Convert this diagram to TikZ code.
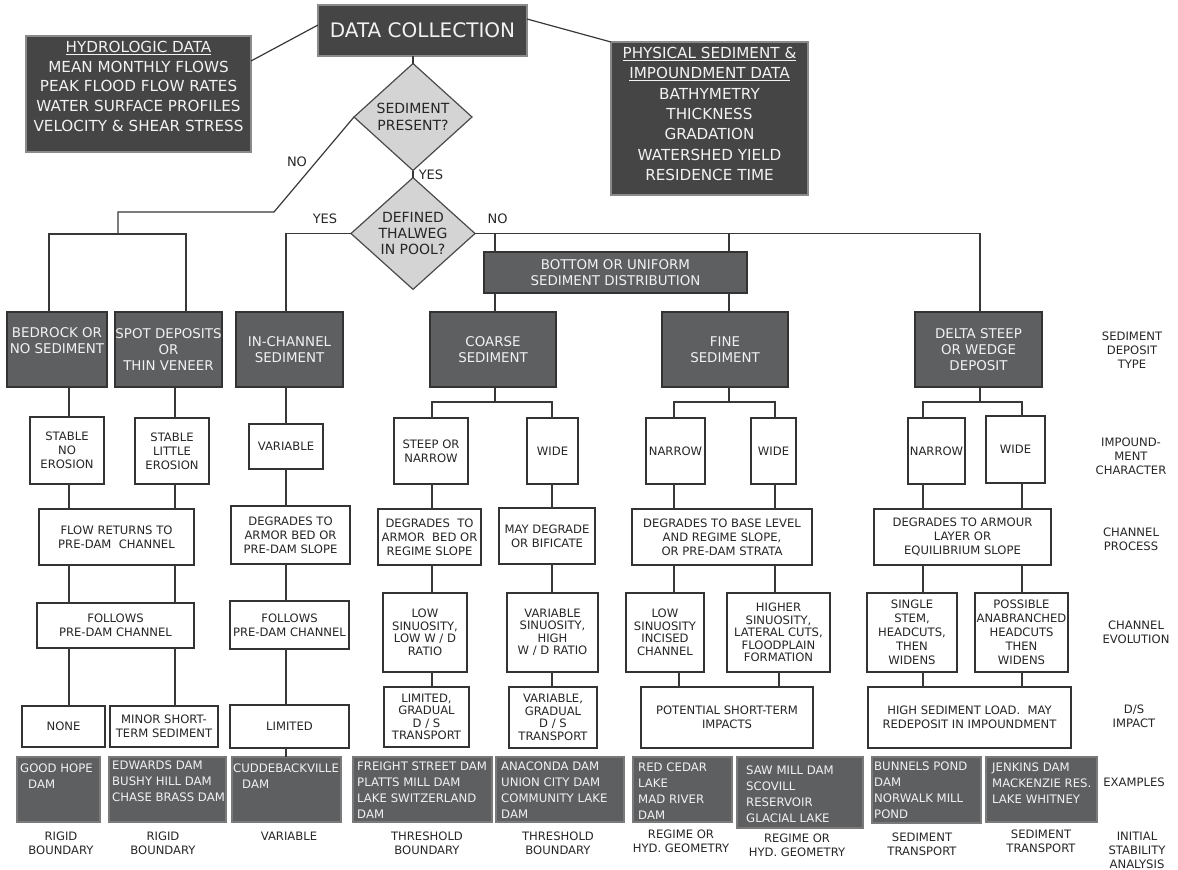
\documentclass[tikz,border=0pt]{standalone}
\usepackage{fontspec}
\setmainfont{DejaVu Sans}
\usetikzlibrary{shapes.geometric}
\definecolor{topfill}{HTML}{454545}
\definecolor{topdraw}{HTML}{8A8A8A}
\definecolor{sedfill}{HTML}{5E5F61}
\definecolor{seddraw}{HTML}{333333}
\definecolor{exdraw}{HTML}{7A7A7A}
\definecolor{diafill}{HTML}{D4D4D4}
\definecolor{diadraw}{HTML}{4A4A4A}
\definecolor{linec}{HTML}{383838}
\definecolor{txt}{HTML}{262626}
\definecolor{wtxt}{HTML}{F2F2F2}
\newcommand\flbox[7]{\node[#1,minimum width={#5-#3},minimum height={#6-#4}] (#2) at ({(#3+#5)/2},{(#4+#6)/2}) {#7};}
\newcommand\liftup[2]{\raisebox{#1}[\height][\depth]{\begin{tabular}{@{}c@{}}#2\end{tabular}}}
\tikzset{
 fbase/.style={inner sep=0pt, outer sep=0pt, align=center},
 topbox/.style={fbase, fill=topfill, draw=topdraw, line width=1.3pt, text=wtxt},
 sedbox/.style={fbase, fill=sedfill, draw=seddraw, line width=1.3pt, text=wtxt, font=\fontsize{13.4}{15.7}\selectfont},
 wbox/.style={fbase, fill=white, draw=seddraw, line width=1.2pt, text=txt, font=\fontsize{11.6}{14}\selectfont},
 tight/.style={font=\fontsize{11.6}{12.5}\selectfont},
 exbox/.style={fbase, fill=sedfill, draw=exdraw, line width=1.3pt},
 extext/.style={inner sep=0pt, align=left, anchor=north west, text=wtxt, font=\fontsize{11.7}{16}\selectfont},
 dia/.style={diamond, inner sep=0pt, outer sep=0pt, fill=diafill, draw=diadraw, line width=1.2pt, text=txt, align=center, font=\fontsize{14}{16.3}\selectfont},
 lab/.style={inner sep=0pt, align=center, text=txt, font=\fontsize{11.6}{14}\selectfont},
 yn/.style={inner sep=0pt, text=txt, font=\fontsize{13}{15}\selectfont},
 conn/.style={draw=linec, line width=1.2pt},
}
\begin{document}
\begin{tikzpicture}[x=1pt,y=-1pt]
\useasboundingbox (0,0) rectangle (1178,870);
% columns and rows
\coordinate (cA) at (49,0);
\coordinate (cB) at (186,0);
\coordinate (cC) at (69,0);
\coordinate (cD) at (175,0);
\coordinate (cE) at (286,0);
\coordinate (cF) at (495,0);
\coordinate (cG) at (729,0);
\coordinate (cH) at (980,0);
\coordinate (cI) at (432,0);
\coordinate (cJ) at (552,0);
\coordinate (cK) at (674,0);
\coordinate (cK2) at (679,0);
\coordinate (cL) at (775,0);
\coordinate (cL2) at (779,0);
\coordinate (cM) at (923,0);
\coordinate (cN) at (1022,0);
\coordinate (brL) at (0,234);
\coordinate (brR) at (0,402);
\coordinate (noA) at (274,212);
\coordinate (noB) at (118,212);

% top boxes
\flbox{topbox,font=\fontsize{20}{24}\selectfont}{dc}{318}{5}{527}{56}{DATA COLLECTION}
\flbox{topbox,font=\fontsize{15.2}{19.8}\selectfont}{hydro}{26}{36}{251}{152}{\liftup{6pt}{\underline{HYDROLOGIC DATA}\\MEAN MONTHLY FLOWS\\PEAK FLOOD FLOW RATES\\WATER SURFACE PROFILES\\VELOCITY \& SHEAR STRESS}}
\flbox{topbox,font=\fontsize{15.2}{20.4}\selectfont}{phys}{611}{42}{808}{195}{\liftup{3pt}{\underline{PHYSICAL SEDIMENT \&}\\\underline{IMPOUNDMENT DATA}\\BATHYMETRY\\THICKNESS\\GRADATION\\WATERSHED YIELD\\RESIDENCE TIME}}

% diamonds
\node[dia, minimum width=118, minimum height=107] (d1) at (413,117) {SEDIMENT\\PRESENT?};
\node[dia, minimum width=124, minimum height=109] (d2) at (413,233.5) {DEFINED\\THALWEG\\IN POOL?};

% sediment type boxes
\flbox{sedbox}{bottom}{484}{252}{747}{293}{BOTTOM OR UNIFORM\\SEDIMENT DISTRIBUTION}
\flbox{sedbox}{bedrock}{7}{312}{107}{387}{\liftup{7pt}{BEDROCK OR\\NO SEDIMENT}}
\flbox{sedbox}{spot}{115}{312}{222}{387}{SPOT DEPOSITS\\OR\\THIN VENEER}
\flbox{sedbox}{inch}{236}{312}{343}{387}{IN-CHANNEL\\SEDIMENT}
\flbox{sedbox}{coarse}{430}{312}{556}{387}{COARSE\\SEDIMENT}
\flbox{sedbox}{fine}{662}{312}{788}{387}{FINE\\SEDIMENT}
\flbox{sedbox}{delta}{915}{312}{1042}{387}{DELTA STEEP\\OR WEDGE\\DEPOSIT}

% impoundment character
\flbox{wbox}{stableno}{30}{417}{104}{484}{STABLE\\NO\\EROSION}
\flbox{wbox}{stablelit}{135}{418}{209}{484}{STABLE\\LITTLE\\EROSION}
\flbox{wbox}{variable}{249}{424}{323}{469}{VARIABLE}
\flbox{wbox}{steep}{394}{418}{468}{484}{STEEP OR\\NARROW}
\flbox{wbox}{cwide}{527}{418}{578}{484}{WIDE}
\flbox{wbox}{fnarrow}{646}{418}{705}{484}{NARROW}
\flbox{wbox}{fwide}{751}{418}{796}{484}{WIDE}
\flbox{wbox}{dnarrow}{908}{418}{965}{484}{NARROW}
\flbox{wbox}{dwide}{986}{416}{1045}{483}{WIDE}

% channel process
\flbox{wbox}{flow}{39}{509}{194}{565}{FLOW RETURNS TO\\PRE-DAM\ \ CHANNEL}
\flbox{wbox}{degarmor}{231}{506}{350}{564}{DEGRADES TO\\ARMOR BED OR\\PRE-DAM SLOPE}
\flbox{wbox}{degrto}{378}{509}{481}{565}{DEGRADES\ \ TO\\ARMOR\ \ BED OR\\REGIME SLOPE}
\flbox{wbox}{maydeg}{499}{508}{595}{564}{MAY DEGRADE\\OR BIFICATE}
\flbox{wbox}{baselevel}{632}{509}{812}{565}{DEGRADES TO BASE LEVEL\\AND REGIME SLOPE,\\OR PRE-DAM STRATA}
\flbox{wbox}{armour}{874}{509}{1051}{565}{DEGRADES TO ARMOUR\\LAYER OR\\EQUILIBRIUM SLOPE}

% channel evolution
\flbox{wbox}{followsL}{37}{603}{194}{648}{FOLLOWS\\PRE-DAM CHANNEL}
\flbox{wbox}{followsR}{230}{601}{349}{649}{FOLLOWS\\PRE-DAM CHANNEL}
\flbox{wbox,tight}{lowsin}{383}{593}{467}{672}{LOW\\SINUOSITY,\\LOW W / D\\RATIO}
\flbox{wbox,tight}{varsin}{507}{593}{598}{672}{VARIABLE\\SINUOSITY,\\HIGH\\W / D RATIO}
\flbox{wbox,tight}{lowinc}{626}{593}{704}{672}{LOW\\SINUOSITY\\INCISED\\CHANNEL}
\flbox{wbox,tight}{higher}{727}{593}{830}{672}{HIGHER\\SINUOSITY,\\LATERAL CUTS,\\FLOODPLAIN\\FORMATION}
\flbox{wbox}{single}{867}{593}{957}{672}{SINGLE\\STEM,\\HEADCUTS,\\THEN\\WIDENS}
\flbox{wbox}{possible}{975}{593}{1068}{672}{POSSIBLE\\ANABRANCHED\\HEADCUTS\\THEN\\WIDENS}

% D/S impact
\flbox{wbox}{none}{22}{706}{105}{747}{NONE}
\flbox{wbox}{minor}{110}{706}{218}{747}{MINOR SHORT-\\TERM SEDIMENT}
\flbox{wbox}{limited}{230}{705}{349}{748}{LIMITED}
\flbox{wbox,tight}{limgrad}{384}{687}{469}{747}{LIMITED,\\GRADUAL\\D / S\\TRANSPORT}
\flbox{wbox,tight}{vargrad}{509}{687}{597}{748}{VARIABLE,\\GRADUAL\\D / S\\TRANSPORT}
\flbox{wbox}{potential}{641}{687}{813}{748}{POTENTIAL SHORT-TERM\\IMPACTS}
\flbox{wbox}{highsed}{868}{687}{1071}{748}{HIGH SEDIMENT LOAD.\ \ MAY\\REDEPOSIT IN IMPOUNDMENT}

% examples
\flbox{exbox}{goodhope}{17}{757}{100}{822}{}
\flbox{exbox}{edwards}{109}{757}{226}{822}{}
\flbox{exbox}{cudde}{232}{757}{341}{822}{}
\flbox{exbox}{freight}{353}{757}{492}{822}{}
\flbox{exbox}{anaconda}{496}{757}{624}{822}{}
\flbox{exbox}{redcedar}{633}{757}{732}{822}{}
\flbox{exbox}{sawmill}{737}{757}{863}{828}{}
\flbox{exbox}{bunnels}{872}{757}{981}{823}{}
\flbox{exbox}{jenkins}{986}{757}{1097}{822}{}
\node[extext] (tgoodhope) at (20,763.4) {GOOD HOPE\\\hspace*{8pt}DAM};
\node[extext] (tedwards) at (112,760.4) {EDWARDS DAM\\BUSHY HILL DAM\\CHASE BRASS DAM};
\node[extext] (tcudde) at (233,763.4) {CUDDEBACKVILLE\\\hspace*{9pt}DAM};
\node[extext] (tfreight) at (357,761.4) {FREIGHT STREET DAM\\PLATTS MILL DAM\\LAKE SWITZERLAND\\DAM};
\node[extext] (tanaconda) at (501,761.4) {ANACONDA DAM\\UNION CITY DAM\\COMMUNITY LAKE\\DAM};
\node[extext] (tredcedar) at (638,762.4) {RED CEDAR\\LAKE\\MAD RIVER\\DAM};
\node[extext] (tsawmill) at (746,765.4) {SAW MILL DAM\\SCOVILL\\RESERVOIR\\GLACIAL LAKE};
\node[extext] (tbunnels) at (874,761.4) {BUNNELS POND\\DAM\\NORWALK MILL\\POND};
\node[extext] (tjenkins) at (992,762.4) {JENKINS DAM\\MACKENZIE RES.\\LAKE WHITNEY};

% row labels
\node[lab] (rl1) at (1132,350) {SEDIMENT\\DEPOSIT\\TYPE};
\node[lab] (rl2) at (1131,456.5) {IMPOUND-\\MENT\\CHARACTER};
\node[lab] (rl3) at (1131,539.5) {CHANNEL\\PROCESS};
\node[lab] (rl4) at (1136,632) {CHANNEL\\EVOLUTION};
\node[lab] (rl5) at (1134,716) {D/S\\IMPACT};
\node[lab] (rl6) at (1134,782) {EXAMPLES};
\node[lab] (rl7) at (1137,850) {INITIAL\\STABILITY\\ANALYSIS};

% bottom labels
\node[lab] (bl1) at (61,843) {RIGID\\BOUNDARY};
\node[lab] (bl2) at (163,843) {RIGID\\BOUNDARY};
\node[lab] (bl3) at (289,836) {VARIABLE};
\node[lab] (bl4) at (427,843) {THRESHOLD\\BOUNDARY};
\node[lab] (bl5) at (558,843) {THRESHOLD\\BOUNDARY};
\node[lab] (bl6) at (681,841.5) {REGIME OR\\HYD. GEOMETRY};
\node[lab] (bl7) at (797,845) {REGIME OR\\HYD. GEOMETRY};
\node[lab] (bl8) at (922,844) {SEDIMENT\\TRANSPORT};
\node[lab] (bl9) at (1041,841.5) {SEDIMENT\\TRANSPORT};

% yes/no labels
\node[yn] (no1) at (297,162) {NO};
\node[yn] (yes1) at (431,175) {YES};
\node[yn] (yes2) at (325,219) {YES};
\node[yn] (no2) at (497.5,219) {NO};

% connectors
\draw[conn] ([yshift=-20pt]dc.north west) -- ([yshift=-25pt]hydro.north east);
\draw[conn] ([yshift=-14pt]dc.north east) -- (phys.north west);
\draw[conn] (d1.north |- dc.south) -- (d1.north);
\draw[conn] (d1.south) -- (d2.north);
\draw[conn] (d1.west) -- (noA) -- (noB) -- (noB |- brL);
\draw[conn] (cA |- bedrock.north) -- (cA |- brL) -- (cB |- brL) -- (cB |- spot.north);
\draw[conn] (d2.west) -- (cE |- d2.west) -- (cE |- inch.north);
\draw[conn] (d2.east) -- (cH |- d2.east) -- (cH |- delta.north);
\draw[conn] (cF |- d2.east) -- (cF |- bottom.north);
\draw[conn] (cG |- d2.east) -- (cG |- bottom.north);
\draw[conn] (cF |- bottom.south) -- (cF |- coarse.north);
\draw[conn] (cG |- bottom.south) -- (cG |- fine.north);
% branches
\draw[conn] (cF |- coarse.south) -- (cF |- brR);
\draw[conn] (cI |- steep.north) -- (cI |- brR) -- (cJ |- brR) -- (cJ |- cwide.north);
\draw[conn] (cG |- fine.south) -- (cG |- brR);
\draw[conn] (cK |- fnarrow.north) -- (cK |- brR) -- (cL |- brR) -- (cL |- fwide.north);
\draw[conn] (cH |- delta.south) -- (cH |- brR);
\draw[conn] (cM |- dnarrow.north) -- (cM |- brR) -- (cN |- brR) -- (cN |- dwide.north);
% left chains
\draw[conn] (cC |- bedrock.south) -- (cC |- stableno.north);
\draw[conn] (cD |- spot.south) -- (cD |- stablelit.north);
\draw[conn] (cC |- stableno.south) -- (cC |- flow.north);
\draw[conn] (cD |- stablelit.south) -- (cD |- flow.north);
\draw[conn] (cC |- flow.south) -- (cC |- followsL.north);
\draw[conn] (cD |- flow.south) -- (cD |- followsL.north);
\draw[conn] (cC |- followsL.south) -- (cC |- none.north);
\draw[conn] (cD |- followsL.south) -- (cD |- minor.north);
% in-channel chain
\draw[conn] (cE |- inch.south) -- (cE |- variable.north);
\draw[conn] (cE |- variable.south) -- (cE |- degarmor.north);
\draw[conn] (cE |- degarmor.south) -- (cE |- followsR.north);
\draw[conn] (cE |- followsR.south) -- (cE |- limited.north);
\draw[conn] (cE |- limited.south) -- (cE |- cudde.north);
% coarse chains
\draw[conn] (cI |- steep.south) -- (cI |- degrto.north);
\draw[conn] (cI |- degrto.south) -- (cI |- lowsin.north);
\draw[conn] (cI |- lowsin.south) -- (cI |- limgrad.north);
\draw[conn] (cJ |- cwide.south) -- (cJ |- maydeg.north);
\draw[conn] (cJ |- maydeg.south) -- (cJ |- varsin.north);
\draw[conn] (cJ |- varsin.south) -- (cJ |- vargrad.north);
% fine chains
\draw[conn] (cK |- fnarrow.south) -- (cK |- baselevel.north);
\draw[conn] (cL |- fwide.south) -- (cL |- baselevel.north);
\draw[conn] (cK |- baselevel.south) -- (cK |- lowinc.north);
\draw[conn] (cL |- baselevel.south) -- (cL |- higher.north);
\draw[conn] (cK2 |- lowinc.south) -- (cK2 |- potential.north);
\draw[conn] (cL2 |- higher.south) -- (cL2 |- potential.north);
% delta chains
\draw[conn] (cM |- dnarrow.south) -- (cM |- armour.north);
\draw[conn] (cN |- dwide.south) -- (cN |- armour.north);
\draw[conn] (cM |- armour.south) -- (cM |- single.north);
\draw[conn] (cN |- armour.south) -- (cN |- possible.north);
\draw[conn] (cM |- single.south) -- (cM |- highsed.north);
\draw[conn] (cN |- possible.south) -- (cN |- highsed.north);
\end{tikzpicture}
\end{document}
